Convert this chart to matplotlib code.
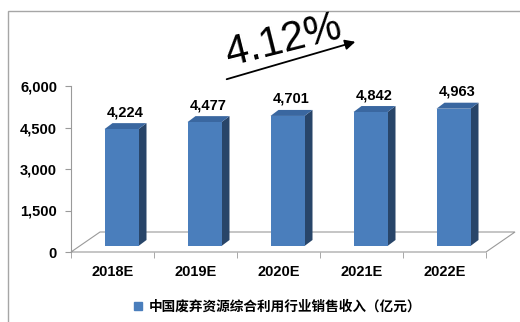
import matplotlib
matplotlib.use("Agg")
import matplotlib.pyplot as plt
from matplotlib.patches import Polygon, Rectangle
from matplotlib.lines import Line2D
import numpy as np

categories = ["2018E", "2019E", "2020E", "2021E", "2022E"]
values = [4224, 4477, 4701, 4842, 4963]
value_labels = ["4,224", "4,477", "4,701", "4,842", "4,963"]
yticks = [0, 1500, 3000, 4500, 6000]
ytick_labels = ["0", "1,500", "3,000", "4,500", "6,000"]
legend_label = "中国废弃资源综合利用行业销售收入（亿元）"
growth_label = "4.12%"

W, H = 520, 322
fig = plt.figure(figsize=(W / 100, H / 100), dpi=100)

num_font = ["Liberation Sans Narrow", "Liberation Sans", "DejaVu Sans"]
cjk_font = ["Noto Sans CJK SC", "DejaVu Sans"]

# axes placement in pixels
x0, x1 = 71, 486
yb, yt = 252, 86
ax = fig.add_axes([x0 / W, (H - yb) / H, (x1 - x0) / W, (yb - yt) / H])
ax.set_xlim(0, len(categories))
ax.set_ylim(0, 6000)

pxx = (x1 - x0) / len(categories)   # pixels per category
pxy = (yb - yt) / 6000.0            # pixels per unit

def dx(px):
    return px / pxx

def dy(px):
    return px / pxy

# floor (3D)
fdx, fdy = dx(29), dy(20)
n = len(categories)
floor = Polygon([(0, 0), (n, 0), (n + fdx, fdy), (fdx, fdy)], closed=True,
                facecolor="white", edgecolor="#9a9a9a", lw=0.8, clip_on=False, zorder=1)
ax.add_patch(floor)

# bars
front_c = "#4A7EBC"
side_c = "#284569"
top_c = "#3A67A0"
hw = dx(17)
offx, offy = dx(9), dy(6)
bdx, bdy = dx(8), dy(6)
for i, v in enumerate(values):
    c = i + 0.5 + offx
    l, r = c - hw, c + hw
    b, t = offy, offy + v
    ax.add_patch(Polygon([(r, b), (r + bdx, b + bdy), (r + bdx, t + bdy), (r, t)],
                         closed=True, facecolor=side_c, edgecolor="none", clip_on=False, zorder=3))
    ax.add_patch(Polygon([(l, t), (r, t), (r + bdx, t + bdy), (l + bdx, t + bdy)],
                         closed=True, facecolor=top_c, edgecolor="none", clip_on=False, zorder=3))
    ax.add_patch(Rectangle((l, b), 2 * hw, v, facecolor=front_c, edgecolor="none",
                           clip_on=False, zorder=4))
    ax.text(c + bdx / 2, t + bdy + dy(4), value_labels[i], ha="center", va="bottom",
            fontsize=10.5, fontweight="bold", family=num_font, zorder=5)

# axes styling
for s in ["top", "right", "bottom"]:
    ax.spines[s].set_visible(False)
ax.spines["left"].set_color("#9a9a9a")
ax.spines["left"].set_linewidth(0.8)
ax.set_yticks(yticks)
ax.set_yticklabels(ytick_labels, fontsize=10.5, fontweight="bold", family=num_font)
ax.tick_params(axis="y", direction="out", length=4, color="#9a9a9a", pad=6)
ax.set_xticks(np.arange(n) + 0.5)
ax.set_xticklabels(categories, fontsize=10.5, fontweight="bold", family=num_font)
ax.tick_params(axis="x", length=0, pad=9)
ax.set_xticks(np.arange(n + 1), minor=True)
ax.tick_params(axis="x", which="minor", direction="out", length=4, color="#9a9a9a")
ax.patch.set_visible(False)

# frame around chart
frame = Rectangle((8 / W, -0.1), 1.2, (H - 11) / H + 0.1, transform=fig.transFigure,
                  facecolor="none", edgecolor="#a6a6a6", lw=1.0, clip_on=False)
fig.patches.append(frame)

# growth annotation
fig.text(284 / W, 1 - 41 / H, growth_label, rotation=14, ha="center", va="center",
         fontsize=30, family=["Liberation Sans", "DejaVu Sans"], rotation_mode="anchor")
fig.add_artist(matplotlib.patches.FancyArrowPatch(
    (224 / W, 1 - 80 / H), (358 / W, 1 - 41 / H), transform=fig.transFigure,
    arrowstyle="-|>,head_length=6,head_width=3", color="black", lw=1.3))

# legend
handle = Line2D([], [], marker="s", linestyle="none", markersize=6,
                markerfacecolor=front_c, markeredgecolor=front_c)
fig.legend([handle], [legend_label], loc="center left",
           bbox_to_anchor=(133 / W, 1 - 307 / H), frameon=False, handlelength=0.8,
           handletextpad=0.35, borderpad=0, borderaxespad=0,
           prop={"family": cjk_font, "size": 9.8, "weight": "bold"})

fig.savefig("out.png", dpi=100)
